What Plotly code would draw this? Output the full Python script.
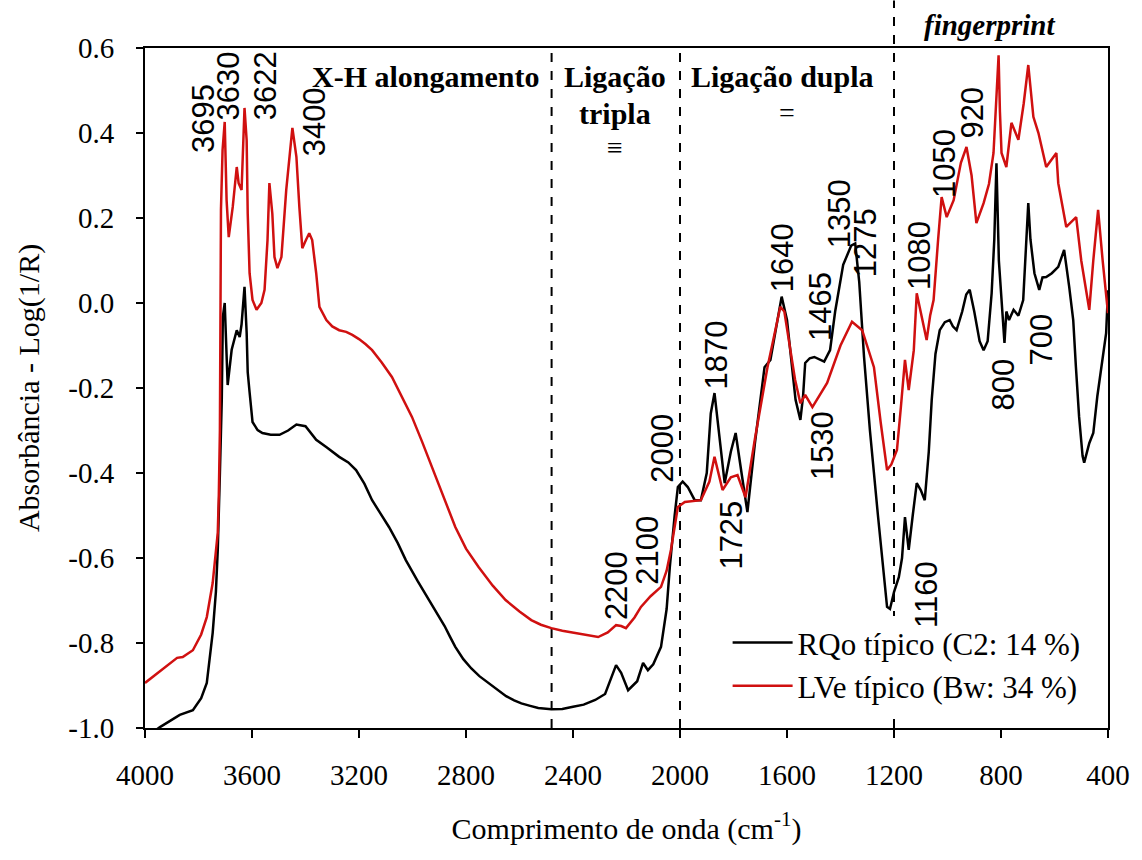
import plotly.graph_objects as go

# ---------------- data ----------------
rqo_wn = [4000, 3960, 3944, 3900, 3870, 3821, 3790, 3769, 3747, 3735, 3728, 3720, 3713, 3709, 3702,
          3691, 3676, 3657, 3646, 3639, 3628, 3620, 3616, 3609, 3598, 3579, 3561, 3530, 3497, 3465, 3434, 3400,
          3360, 3320, 3274, 3240, 3211, 3180, 3151, 3120, 3088, 3055, 3025, 2980, 2939, 2900, 2880, 2860,
          2840, 2810, 2780, 2750, 2716, 2680, 2650, 2620, 2593, 2560, 2530, 2481,
          2440, 2400, 2360, 2317, 2280, 2239, 2220, 2194, 2160, 2138, 2120, 2100, 2071, 2050, 2038, 2020, 2008,
          1990, 1971, 1945, 1922, 1900, 1885, 1871, 1855, 1833, 1810, 1792, 1770, 1748, 1720, 1684,
          1662, 1640, 1620, 1600, 1585, 1568, 1550, 1540, 1532, 1515, 1498, 1461, 1439, 1420, 1390,
          1360, 1345, 1330, 1312, 1290, 1260, 1226, 1215, 1200, 1182, 1170, 1159, 1150, 1145, 1130,
          1115, 1100, 1085, 1070, 1059, 1045, 1029, 1010, 992, 980, 966, 945, 930, 917, 900,
          880, 865, 850, 835, 825, 817, 808, 798, 790, 787, 780, 770, 753, 735, 717,
          705, 698, 690, 675, 657, 645, 631, 610, 586, 564, 545, 530, 520, 508, 495,
          489, 470, 455, 440, 433, 420, 407, 400]
rqo_abs = [-1.03, -1.005, -0.998, -0.98, -0.969, -0.958, -0.93, -0.894, -0.776, -0.68, -0.581, -0.40, -0.228, -0.033, 0.00,
           -0.193, -0.11, -0.064, -0.08, -0.05, 0.038, -0.07, -0.163, -0.21, -0.28, -0.299, -0.306, -0.31, -0.31, -0.30, -0.286, -0.29,
           -0.322, -0.34, -0.362, -0.375, -0.393, -0.425, -0.464, -0.495, -0.527, -0.565, -0.605, -0.655, -0.699, -0.74, -0.76, -0.785,
           -0.809, -0.838, -0.86, -0.878, -0.894, -0.912, -0.925, -0.935, -0.942, -0.948, -0.953, -0.956,
           -0.955, -0.95, -0.945, -0.934, -0.92, -0.852, -0.87, -0.911, -0.89, -0.847, -0.864, -0.85, -0.809, -0.72, -0.621, -0.50, -0.433,
           -0.42, -0.433, -0.464, -0.464, -0.40, -0.26, -0.212, -0.30, -0.424, -0.35, -0.306, -0.40, -0.492, -0.33, -0.151,
           -0.134, -0.06, 0.015, -0.04, -0.13, -0.228, -0.275, -0.22, -0.141, -0.13, -0.127, -0.138, -0.111, -0.02, 0.09,
           0.135, 0.14, 0.05, -0.127, -0.30, -0.50, -0.715, -0.72, -0.68, -0.645, -0.60, -0.504, -0.56, -0.581, -0.50,
           -0.424, -0.44, -0.464, -0.35, -0.228, -0.12, -0.064, -0.045, -0.04, -0.055, -0.064, -0.02, 0.02, 0.031, -0.02,
           -0.09, -0.111, -0.09, 0.023, 0.15, 0.329, 0.10, 0.007, -0.05, -0.094, -0.02, -0.04, -0.016, -0.03, 0.007,
           0.15, 0.235, 0.15, 0.07, 0.031, 0.06, 0.061, 0.07, 0.085, 0.125, 0.038, -0.04, -0.15, -0.268, -0.36,
           -0.376, -0.33, -0.306, -0.22, -0.188, -0.12, -0.071, 0.03]

lve_wn = [4000, 3950, 3900, 3880, 3859, 3821, 3790, 3769, 3747, 3728, 3724, 3720, 3716, 3710, 3702, 3695,
          3687, 3672, 3657, 3650, 3639, 3631, 3628, 3620, 3616, 3609, 3598, 3583, 3565, 3553, 3542,
          3535, 3524, 3516, 3505, 3490, 3472, 3449, 3434, 3423, 3412, 3397, 3386, 3375, 3360, 3348,
          3322, 3300, 3274, 3248, 3225, 3200, 3175, 3151, 3115, 3077, 3040, 3002, 2965, 2928, 2885, 2840,
          2800, 2753, 2700, 2652, 2600, 2556, 2520, 2481, 2440, 2400, 2350, 2306,
          2270, 2239, 2220, 2202, 2170, 2146, 2110, 2071, 2050, 2034, 2008, 1982, 1922, 1890, 1871,
          1855, 1841, 1810, 1785, 1755, 1720, 1673, 1640, 1625, 1610, 1590, 1570, 1550, 1532, 1505,
          1450, 1400, 1357, 1319, 1275, 1250, 1226, 1210, 1189, 1175, 1159, 1145, 1126, 1115, 1100,
          1078, 1065, 1052, 1035, 1022, 1003, 977, 950, 929, 910, 892, 865, 845, 828, 815,
          809, 804, 798, 780, 761, 735, 715, 698, 690, 679, 660, 631, 593, 586, 556,
          519, 500, 470, 455, 437, 420, 400]
lve_abs = [-0.894, -0.87, -0.845, -0.835, -0.833, -0.817, -0.78, -0.739, -0.659, -0.541, -0.45, -0.30, 0.22, 0.36, 0.426, 0.242,
           0.155, 0.226, 0.32, 0.282, 0.266, 0.383, 0.459, 0.383, 0.21, 0.07, 0.007, -0.016, 0.0, 0.031, 0.148,
           0.282, 0.21, 0.108, 0.082, 0.108, 0.266, 0.412, 0.344, 0.226, 0.129, 0.15, 0.164, 0.148, 0.07, -0.009,
           -0.04, -0.055, -0.064, -0.068, -0.075, -0.085, -0.097, -0.111, -0.14, -0.174, -0.22, -0.268, -0.325, -0.386, -0.455, -0.527,
           -0.578, -0.621, -0.665, -0.699, -0.726, -0.746, -0.757, -0.765, -0.771, -0.776, -0.781, -0.786,
           -0.775, -0.758, -0.76, -0.765, -0.74, -0.715, -0.69, -0.668, -0.63, -0.581, -0.48, -0.468, -0.464, -0.42, -0.362,
           -0.40, -0.44, -0.41, -0.405, -0.457, -0.32, -0.151, -0.05, -0.009, -0.02, -0.10, -0.18, -0.236, -0.216, -0.245,
           -0.188, -0.10, -0.044, -0.064, -0.151, -0.28, -0.393, -0.38, -0.346, -0.25, -0.134, -0.205, -0.111, 0.023, -0.02,
           -0.087, -0.03, 0.007, 0.15, 0.249, 0.202, 0.242, 0.33, 0.367, 0.30, 0.188, 0.235, 0.28, 0.353, 0.50,
           0.583, 0.45, 0.353, 0.32, 0.424, 0.384, 0.47, 0.56, 0.50, 0.438, 0.40, 0.32, 0.353, 0.282, 0.179,
           0.202, 0.10, -0.016, 0.10, 0.219, 0.10, -0.024]

series_names = ["RQo típico (C2: 14 %)", "LVe típico (Bw: 34 %)"]
region_bounds = [2480, 2000, 1200]
x_ticks = [4000, 3600, 3200, 2800, 2400, 2000, 1600, 1200, 800, 400]
y_ticks = [0.6, 0.4, 0.2, 0.0, -0.2, -0.4, -0.6, -0.8, -1.0]

# peak labels: (text, x, y)
peak_labels = [
    ("3695", 3784, 0.435), ("3630", 3687, 0.511), ("3622", 3550, 0.511), ("3400", 3363, 0.426),
    ("2200", 2239, -0.666), ("2100", 2120, -0.581), ("2000", 2064, -0.341), ("1870", 1863, -0.122),
    ("1725", 1811, -0.546), ("1640", 1614, 0.106), ("1465", 1472, -0.009), ("1530", 1468, -0.336),
    ("1350", 1405, 0.209), ("1275", 1308, 0.141), ("1080", 1103, 0.113), ("1050", 1014, 0.329),
    ("920", 910, 0.447), ("1160", 1081, -0.685), ("800", 791, -0.191), ("700", 649, -0.085),
]

SERIF = "Liberation Serif, Times New Roman, serif"
SANS = "Liberation Sans, Arial, sans-serif"

fig = go.Figure()
fig.add_trace(go.Scatter(x=rqo_wn, y=rqo_abs, mode="lines", name=series_names[0],
                         line=dict(color="#000000", width=2.5)))
fig.add_trace(go.Scatter(x=lve_wn, y=lve_abs, mode="lines", name=series_names[1],
                         line=dict(color="#d01010", width=2.5)))

for xb in region_bounds:
    fig.add_shape(type="line", xref="x", yref="paper", x0=xb, x1=xb, y0=0,
                  y1=1.07 if xb == 1200 else 1.0,
                  line=dict(color="black", width=2, dash="dash"), layer="below")

ann = []
for t, xv, yv in peak_labels:
    ann.append(dict(text=t, x=xv, y=yv, xref="x", yref="y", showarrow=False, textangle=-90,
                    font=dict(family=SANS, size=31, color="black")))

ann += [
    dict(text="<b>X-H alongamento</b>", x=2950, y=0.532, xref="x", yref="y", showarrow=False,
         font=dict(family=SERIF, size=30, color="black")),
    dict(text="<b>Ligação</b>", x=2243, y=0.532, xref="x", yref="y", showarrow=False,
         font=dict(family=SERIF, size=30, color="black")),
    dict(text="<b>tripla</b>", x=2243, y=0.447, xref="x", yref="y", showarrow=False,
         font=dict(family=SERIF, size=30, color="black")),
    dict(text="≡", x=2243, y=0.365, xref="x", yref="y", showarrow=False,
         font=dict(family=SERIF, size=28, color="black")),
    dict(text="<b>Ligação dupla</b>", x=1617, y=0.532, xref="x", yref="y", showarrow=False,
         font=dict(family=SERIF, size=30, color="black")),
    dict(text="=", x=1600, y=0.449, xref="x", yref="y", showarrow=False,
         font=dict(family=SERIF, size=28, color="black")),
    dict(text="<b><i>fingerprint</i></b>", x=843, y=1.034, xref="x", yref="paper", showarrow=False,
         xanchor="center", yanchor="middle",
         font=dict(family=SERIF, size=29, color="black")),
]

fig.update_layout(
    width=1142, height=860,
    margin=dict(l=145, r=30, t=48, b=132),
    paper_bgcolor="white", plot_bgcolor="white",
    font=dict(family=SERIF, size=28, color="black"),
    annotations=ann,
    showlegend=True,
    legend=dict(x=0.605, y=0.165, xanchor="left", yanchor="top",
                bgcolor="white", borderwidth=0,
                font=dict(family=SERIF, size=31, color="black"),
                itemwidth=60, tracegroupgap=0),
)
fig.update_xaxes(range=[4000, 400], tickvals=x_ticks, ticktext=[str(v) for v in x_ticks],
                 showgrid=False, zeroline=False, showline=True, linecolor="black", linewidth=2,
                 mirror=True, ticks="outside", ticklen=8, tickwidth=2, tickcolor="black",
                 tickfont=dict(family=SERIF, size=29, color="black"), ticklabelstandoff=12,
                 title=dict(text="Comprimento de onda (cm<sup>-1</sup>)", standoff=28,
                            font=dict(family=SERIF, size=30, color="black")))
fig.update_yaxes(range=[-1.0, 0.6], tickvals=y_ticks, ticktext=[f"{v:.1f}" for v in y_ticks],
                 showgrid=False, zeroline=False, showline=True, linecolor="black", linewidth=2,
                 mirror=True, ticks="outside", ticklen=7, tickwidth=2, tickcolor="black",
                 tickfont=dict(family=SERIF, size=29, color="black"), ticklabelstandoff=16,
                 title=dict(text="Absorbância - Log(1/R)", standoff=20,
                            font=dict(family=SERIF, size=30, color="black")))

fig.write_html("out.html")
